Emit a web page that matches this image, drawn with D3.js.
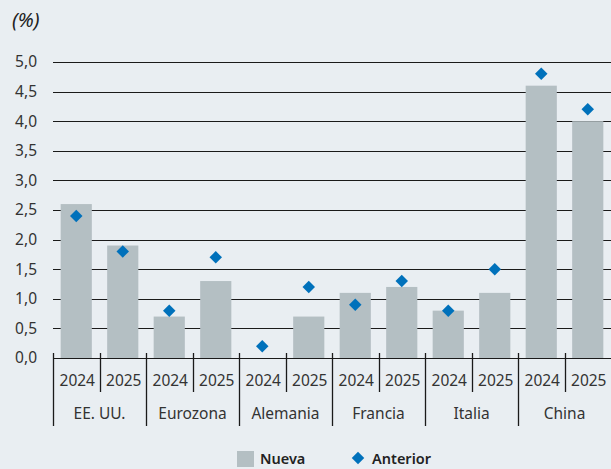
<!DOCTYPE html>
<html>
<head>
  <meta charset="utf-8">
  <script src="https://d3js.org/d3.v7.min.js"></script>
  <style>
    body { margin: 0; background: #e9eef2; }
    svg { display: block; font-family: "Noto Sans", "Open Sans", sans-serif; }
  </style>
</head>
<body>
<script>
  // Data
  var groups = ["EE. UU.", "Eurozona", "Alemania", "Francia", "Italia", "China"];
  var years = ["2024", "2025"];
  var nueva = [2.6, 1.9, 0.7, 1.3, 0.0, 0.7, 1.1, 1.2, 0.8, 1.1, 4.6, 4.0];
  var anterior = [2.4, 1.8, 0.8, 1.7, 0.2, 1.2, 0.9, 1.3, 0.8, 1.5, 4.8, 4.2];
  var yTicks = [0, 0.5, 1, 1.5, 2, 2.5, 3, 3.5, 4, 4.5, 5];

  var W = 611, H = 469;
  var m = {left: 53, right: 611, top: 62, bottom: 358};

  var keys = d3.range(groups.length * years.length);

  var svg = d3.select("body").append("svg")
      .attr("width", W).attr("height", H);

  var x = d3.scaleBand().domain(keys).range([m.left, m.right]).paddingInner(0.33).paddingOuter(0.165);
  var xStep = d3.scaleBand().domain(keys).range([m.left, m.right]);
  var y = d3.scaleLinear().domain([0, 5]).range([m.bottom, m.top]);
  var fmt = function(d) { return d3.format(".1f")(d).replace(".", ","); };
  var fs = "15.5px";

  // unit label
  svg.append("text").attr("x", 12).attr("y", 27)
     .style("font-size", "20px").style("font-style", "italic").attr("fill", "#222")
     .text("(%)");

  // gridlines + y labels
  var grid = svg.append("g");
  grid.selectAll("line").data(yTicks.slice(1)).enter().append("line")
      .attr("x1", m.left).attr("x2", m.right)
      .attr("y1", function(d) { return Math.round(y(d)) + 0.5; })
      .attr("y2", function(d) { return Math.round(y(d)) + 0.5; })
      .attr("stroke", "#1a1a1a").attr("stroke-width", 1);
  grid.selectAll("text").data(yTicks).enter().append("text")
      .attr("x", 37).attr("y", function(d) { return y(d); })
      .attr("dy", "0.35em").attr("text-anchor", "end")
      .style("font-size", fs).attr("fill", "#333")
      .text(fmt);

  // bars
  svg.append("g").selectAll("rect").data(nueva).enter().append("rect")
     .attr("x", function(d, i) { return x(i); })
     .attr("width", x.bandwidth())
     .attr("y", function(d) { return y(d); })
     .attr("height", function(d) { return y(0) - y(d); })
     .attr("fill", "#b4bfc3");

  // x axis
  var ax = svg.append("g");
  ax.append("line").attr("x1", m.left).attr("x2", m.right)
    .attr("y1", m.bottom + 0.5).attr("y2", m.bottom + 0.5)
    .attr("stroke", "#1a1a1a");
  ax.selectAll(".sep").data(keys).enter().append("line")
    .attr("x1", function(i) { return Math.round(xStep(i)) + 0.5; })
    .attr("x2", function(i) { return Math.round(xStep(i)) + 0.5; })
    .attr("y1", m.bottom - 5)
    .attr("y2", function(i) { return i % 2 === 0 ? 426 : 392; })
    .attr("stroke", "#1a1a1a").attr("stroke-width", 1.3);
  ax.selectAll(".yr").data(keys).enter().append("text")
    .attr("x", function(i) { return xStep(i) + xStep.bandwidth() / 2 + 1; })
    .attr("y", 381).attr("dy", "0.35em").attr("text-anchor", "middle")
    .style("font-size", fs).attr("fill", "#333")
    .text(function(i) { return years[i % 2]; });
  ax.selectAll(".grp").data(groups).enter().append("text")
    .attr("x", function(g, i) { return xStep(i * 2 + 1); })
    .attr("y", 414).attr("dy", "0.35em").attr("text-anchor", "middle")
    .style("font-size", fs).attr("fill", "#333")
    .text(function(g) { return g; });

  // diamonds
  var sym = d3.symbol().type(d3.symbolSquare).size(78);
  svg.append("g").selectAll("path").data(anterior).enter().append("path")
     .attr("d", sym)
     .attr("transform", function(d, i) {
       return "translate(" + (x(i) + x.bandwidth() / 2) + "," + y(d) + ") rotate(45)";
     })
     .attr("fill", "#0071bb");

  // legend
  var lg = svg.append("g");
  lg.append("rect").attr("x", 237).attr("y", 451).attr("width", 17).attr("height", 16).attr("fill", "#b4bfc3");
  lg.append("text").attr("x", 260).attr("y", 459).attr("dy", "0.35em")
    .style("font-size", "14.5px").style("font-weight", "600").attr("fill", "#222").text("Nueva");
  lg.append("path").attr("d", sym).attr("transform", "translate(358,458) rotate(45)").attr("fill", "#0071bb");
  lg.append("text").attr("x", 372).attr("y", 459).attr("dy", "0.35em")
    .style("font-size", "14.5px").style("font-weight", "600").attr("fill", "#222").text("Anterior");
</script>
</body>
</html>
